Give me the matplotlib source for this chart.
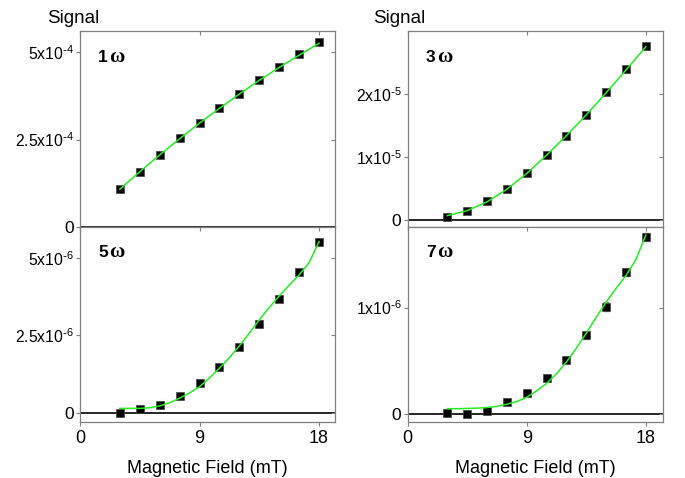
import matplotlib
matplotlib.use("Agg")
import matplotlib.pyplot as plt
from matplotlib.transforms import offset_copy

plt.rcParams['font.family'] = ['Liberation Sans', 'DejaVu Sans']
plt.rcParams['mathtext.default'] = 'regular'
plt.rcParams['axes.unicode_minus'] = False

# ---------------- data ----------------
field = [3.0, 4.5, 6.0, 7.5, 9.0, 10.5, 12.0, 13.5, 15.0, 16.5, 18.0]

sig_1w = [1.08e-4, 1.58e-4, 2.07e-4, 2.53e-4, 2.98e-4, 3.40e-4, 3.81e-4, 4.20e-4, 4.58e-4, 4.93e-4, 5.28e-4]
fit_1w = [1.08e-4, 1.58e-4, 2.06e-4, 2.52e-4, 2.97e-4, 3.39e-4, 3.80e-4, 4.19e-4, 4.56e-4, 4.91e-4, 5.25e-4]

sig_3w = [0.05e-5, 0.15e-5, 0.30e-5, 0.50e-5, 0.75e-5, 1.035e-5, 1.34e-5, 1.67e-5, 2.03e-5, 2.39e-5, 2.76e-5]
fit_3w = [0.07e-5, 0.15e-5, 0.29e-5, 0.49e-5, 0.74e-5, 1.03e-5, 1.34e-5, 1.67e-5, 2.02e-5, 2.38e-5, 2.75e-5]

sig_5w = [0.0, 0.11e-6, 0.25e-6, 0.54e-6, 0.95e-6, 1.47e-6, 2.11e-6, 2.86e-6, 3.68e-6, 4.56e-6, 5.50e-6]
sig_7w = [0.012e-6, 0.006e-6, 0.03e-6, 0.115e-6, 0.20e-6, 0.34e-6, 0.51e-6, 0.74e-6, 1.01e-6, 1.33e-6, 1.66e-6]
err_7w = [0.01e-6, 0.01e-6, 0.015e-6, 0.02e-6, 0.02e-6, 0.02e-6, 0.025e-6, 0.03e-6, 0.04e-6, 0.03e-6, 0.04e-6]

fit_x = [3.0, 3.75, 4.5, 5.25, 6.0, 6.75, 7.5, 8.25, 9.0, 9.75, 10.5, 11.25,
         12.0, 12.75, 13.5, 14.25, 15.0, 15.75, 16.5, 17.25, 18.0]
fit_5w = [0.14e-6, 0.14e-6, 0.14e-6, 0.16e-6, 0.22e-6, 0.32e-6, 0.47e-6, 0.64e-6, 0.84e-6,
          1.12e-6, 1.44e-6, 1.78e-6, 2.16e-6, 2.57e-6, 3.00e-6, 3.40e-6, 3.77e-6, 4.12e-6,
          4.45e-6, 4.85e-6, 5.53e-6]
fit_7w = [0.053e-6, 0.053e-6, 0.055e-6, 0.058e-6, 0.063e-6, 0.075e-6, 0.094e-6, 0.12e-6,
          0.16e-6, 0.22e-6, 0.29e-6, 0.38e-6, 0.49e-6, 0.62e-6, 0.76e-6, 0.91e-6, 1.05e-6,
          1.18e-6, 1.30e-6, 1.45e-6, 1.68e-6]

x_ticks = [0, 9, 18]
x_ticklabels = ['0', '9', '18']

# ---------------- figure ----------------
W, H = 685, 478
fig = plt.figure(figsize=(W / 100, H / 100), dpi=100)

def px_axes(x0, y0, x1, y1):
    return fig.add_axes([x0 / W, 1 - y1 / H, (x1 - x0) / W, (y1 - y0) / H])

SPINE = '#7f7f7f'
GREEN = '#22ee22'

def sci(m, e):
    return m + 'x10$^{\\text{-}' + str(e) + '}$'

panels = [
    dict(rect=(80, 31, 335, 227), xlim=(0, 19.2), ylim=(0, 5.6e-4),
         yt=[0, 2.5e-4, 5e-4], ytl=['0', sci('2.5', 4), sci('5', 4)],
         y=sig_1w, fx=field, fy=fit_1w, err=None, lab='1', xl=False),
    dict(rect=(407.7, 31, 663, 227), xlim=(0, 19.3), ylim=(-0.11e-5, 3.0e-5),
         yt=[0, 1e-5, 2e-5], ytl=['0', sci('1', 5), sci('2', 5)],
         y=sig_3w, fx=field, fy=fit_3w, err=None, lab='3', xl=False),
    dict(rect=(80, 227, 335, 422), xlim=(0, 19.2), ylim=(-0.3e-6, 6.0e-6),
         yt=[0, 2.5e-6, 5e-6], ytl=['0', sci('2.5', 6), sci('5', 6)],
         y=sig_5w, fx=fit_x, fy=fit_5w, err=None, lab='5', xl=True),
    dict(rect=(407.7, 227, 663, 422), xlim=(0, 19.3), ylim=(-0.072e-6, 1.755e-6),
         yt=[0, 1e-6], ytl=['0', sci('1', 6)],
         y=sig_7w, fx=fit_x, fy=fit_7w, err=err_7w, lab='7', xl=True),
]

for p in panels:
    ax = px_axes(*p['rect'])
    ax.set_xlim(*p['xlim'])
    ax.set_ylim(*p['ylim'])
    for s in ax.spines.values():
        s.set_color(SPINE)
        s.set_linewidth(0.9)
    ax.axhline(0, color='black', lw=1.2, zorder=1)
    if p['err'] is not None:
        ax.errorbar(field, p['y'], yerr=p['err'], fmt='none', ecolor='#888888',
                    elinewidth=0.8, capsize=2, zorder=2)
    ax.plot(field, p['y'], 's', color='black', ms=5.6, mec='#444444', mew=0.5, zorder=3)
    ax.plot(p['fx'], p['fy'], '-', color=GREEN, lw=1.1, zorder=4)

    ax.set_xticks(x_ticks)
    ax.set_yticks(p['yt'])
    ax.set_yticklabels(p['ytl'])
    for t in ax.get_yticklabels():
        t.set_fontsize(12.5 if t.get_text() == '0' else 11.3)
    ax.tick_params(axis='y', which='both', left=True, right=True, direction='out',
                   length=3, width=0.8, color=SPINE, pad=1.5)
    for tl in ax.yaxis.get_major_ticks():
        tl.tick2line.set_marker(matplotlib.lines.TICKLEFT)
    ax.tick_params(axis='x', bottom=True, top=True, direction='out',
                   length=3, width=0.8, color=SPINE, labelsize=13, pad=3)
    for tl in ax.xaxis.get_major_ticks():
        tl.tick2line.set_marker(matplotlib.lines.TICKDOWN)
    if p['xl']:
        ax.set_xticklabels(x_ticklabels)
        ax.set_xlabel('Magnetic Field (mT)', fontsize=13, labelpad=9)
    else:
        ax.set_xticklabels([])

    ypos = 0.84 if not p['xl'] else 0.845
    ax.text(0.072, ypos, p['lab'], transform=ax.transAxes,
            fontsize=12.5, fontweight='bold', va='baseline', ha='left')
    tr = offset_copy(ax.transAxes, fig=fig, x=7.6, y=0, units='points')
    ax.text(0.072, ypos, '\u03c9', transform=tr,
            fontsize=15, fontweight='bold', family=['Liberation Serif', 'DejaVu Serif'],
            va='baseline', ha='left')

fig.text(46.7 / W, 1 - 23.3 / H, 'Signal', fontsize=13.5, va='baseline', ha='left')
fig.text(373.3 / W, 1 - 23.3 / H, 'Signal', fontsize=13.5, va='baseline', ha='left')

fig.savefig('out.png', dpi=100)
